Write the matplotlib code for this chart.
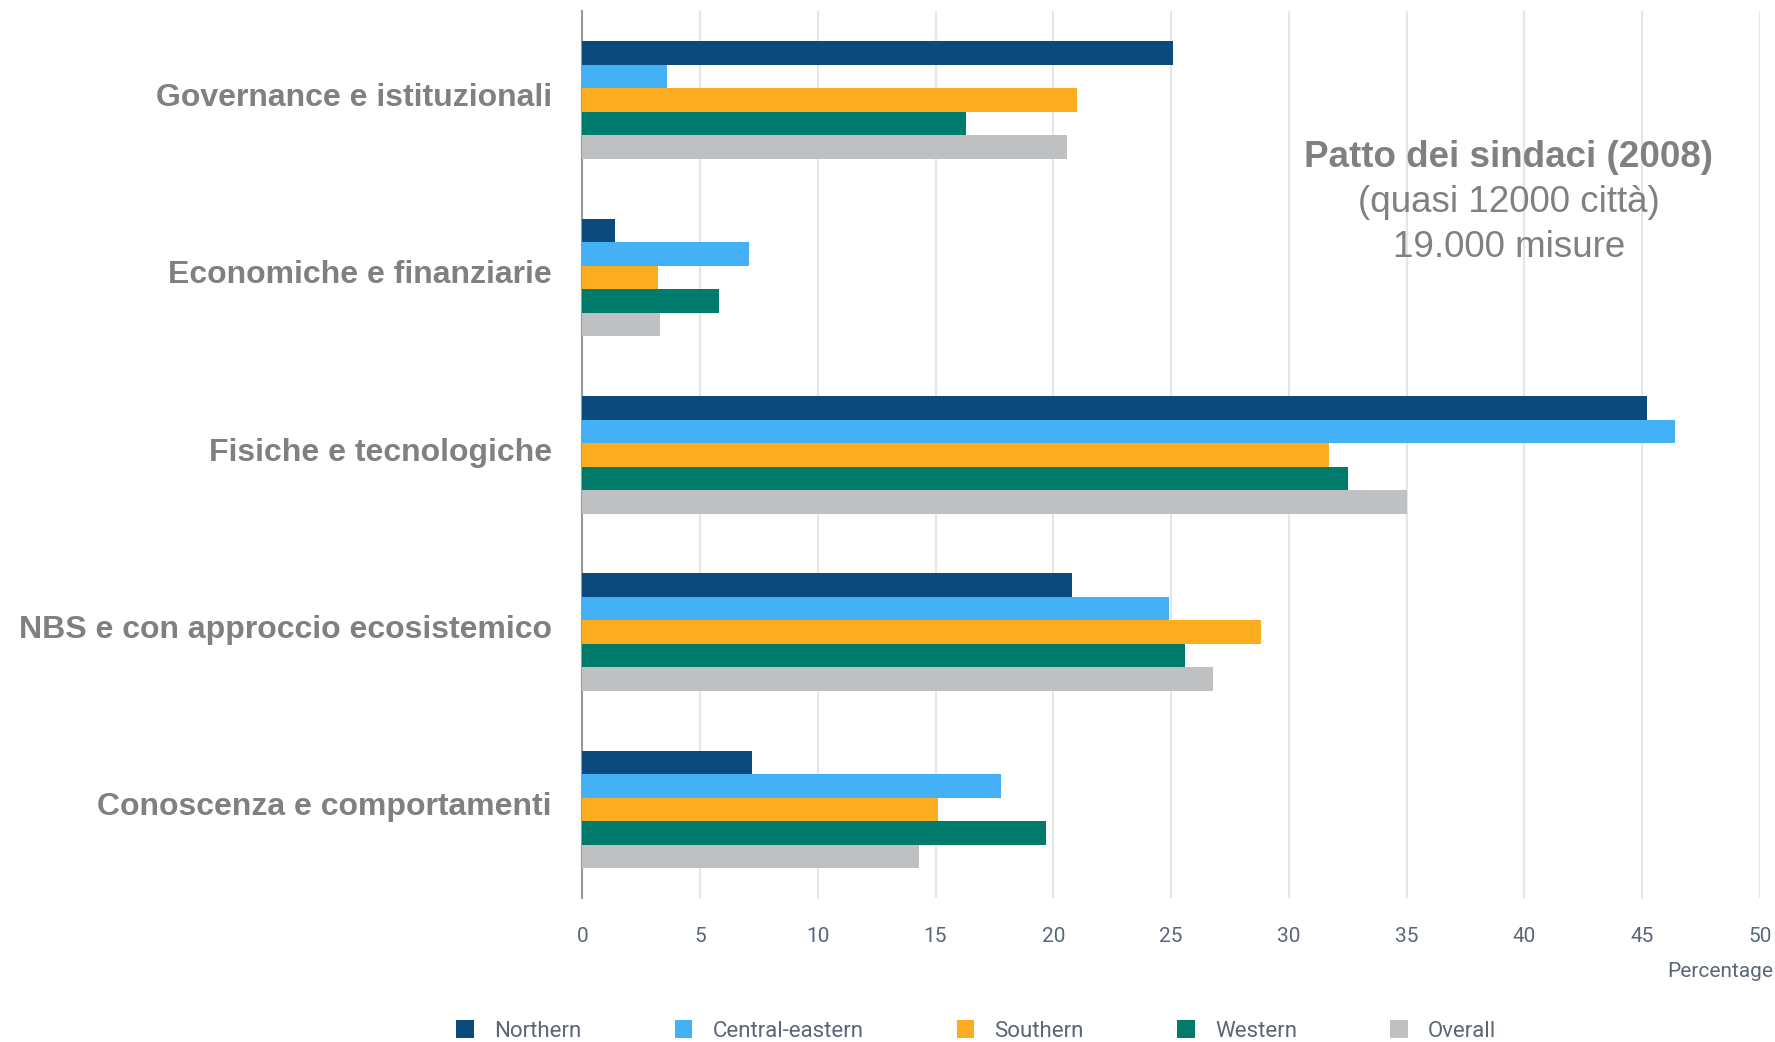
import numpy as np
import matplotlib
matplotlib.use("Agg")
import matplotlib.pyplot as plt
import matplotlib.transforms as mtransforms

# categories (top to bottom) and regional shares in percent
categories = ["Governance e istituzionali", "Economiche e finanziarie",
              "Fisiche e tecnologiche", "NBS e con approccio ecosistemico",
              "Conoscenza e comportamenti"]
northern = [25.1, 1.4, 45.2, 20.8, 7.2]
central_eastern = [3.6, 7.1, 46.4, 24.9, 17.8]
southern = [21.0, 3.2, 31.7, 28.8, 15.1]
western = [16.3, 5.8, 32.5, 25.6, 19.7]
overall = [20.6, 3.3, 35.0, 26.8, 14.3]

series = [("Northern", northern, "#0a4a7d"),
          ("Central-eastern", central_eastern, "#44b1f7"),
          ("Southern", southern, "#fbac1f"),
          ("Western", western, "#007b6b"),
          ("Overall", overall, "#bec0c2")]

fig = plt.figure(figsize=(17.75, 10.42), dpi=100)
ax = fig.add_axes([0.328, 0.138, 0.6635, 0.851])

h = 0.1325
y = np.arange(len(categories))
for k, (name, vals, col) in enumerate(series):
    ax.barh(y + (k - 2) * h, vals, height=h, color=col, label=name, zorder=3)

ax.set_ylim(len(categories) - 0.5, -0.5)
ax.set_xlim(0, 50)
ax.set_xticks(range(0, 51, 5))
ax.grid(axis="x", color="#e6e6e6", linewidth=1.5, zorder=0)
for s in ["top", "right", "bottom"]:
    ax.spines[s].set_visible(False)
ax.spines["left"].set_color("#9a9a9a")
ax.spines["left"].set_linewidth(1.5)

tick_color = "#5b6676"
ax.tick_params(axis="x", length=0, pad=21, labelsize=15, labelcolor=tick_color)
for lbl in ax.get_xticklabels():
    lbl.set_family("Roboto")
ax.set_yticks(y)
ax.set_yticklabels(categories, fontsize=23, fontweight="bold",
                   color="#808080", family="Liberation Sans")
ax.tick_params(axis="y", length=0, pad=22)
# labels sit a little above the group centres
shift = mtransforms.ScaledTranslation(0, 4 / 72, fig.dpi_scale_trans)
for lbl in ax.get_yticklabels():
    lbl.set_transform(lbl.get_transform() + shift)

fig.text(0.999, 0.068, "Percentage", ha="right", va="center",
         fontsize=15, color=tick_color, family="Roboto")

# annotation block
note_x = 0.850
fig.text(note_x, 0.849, "Patto dei sindaci (2008)", ha="center", va="center",
         fontsize=26.5, fontweight="bold", color="#808080", family="Liberation Sans")
fig.text(note_x, 0.806, "(quasi 12000 città)", ha="center", va="center",
         fontsize=26.5, color="#808080", family="Liberation Sans")
fig.text(note_x, 0.762, "19.000 misure", ha="center", va="center",
         fontsize=26.5, color="#808080", family="Liberation Sans")

leg = fig.legend(loc="lower center", bbox_to_anchor=(0.550, -0.019), ncol=5,
                 frameon=False, handlelength=0.8, handleheight=0.9,
                 columnspacing=4.2, handletextpad=0.9,
                 prop={"family": "Roboto", "size": 16})
for t in leg.get_texts():
    t.set_color(tick_color)

fig.savefig("out.png", dpi=100)
